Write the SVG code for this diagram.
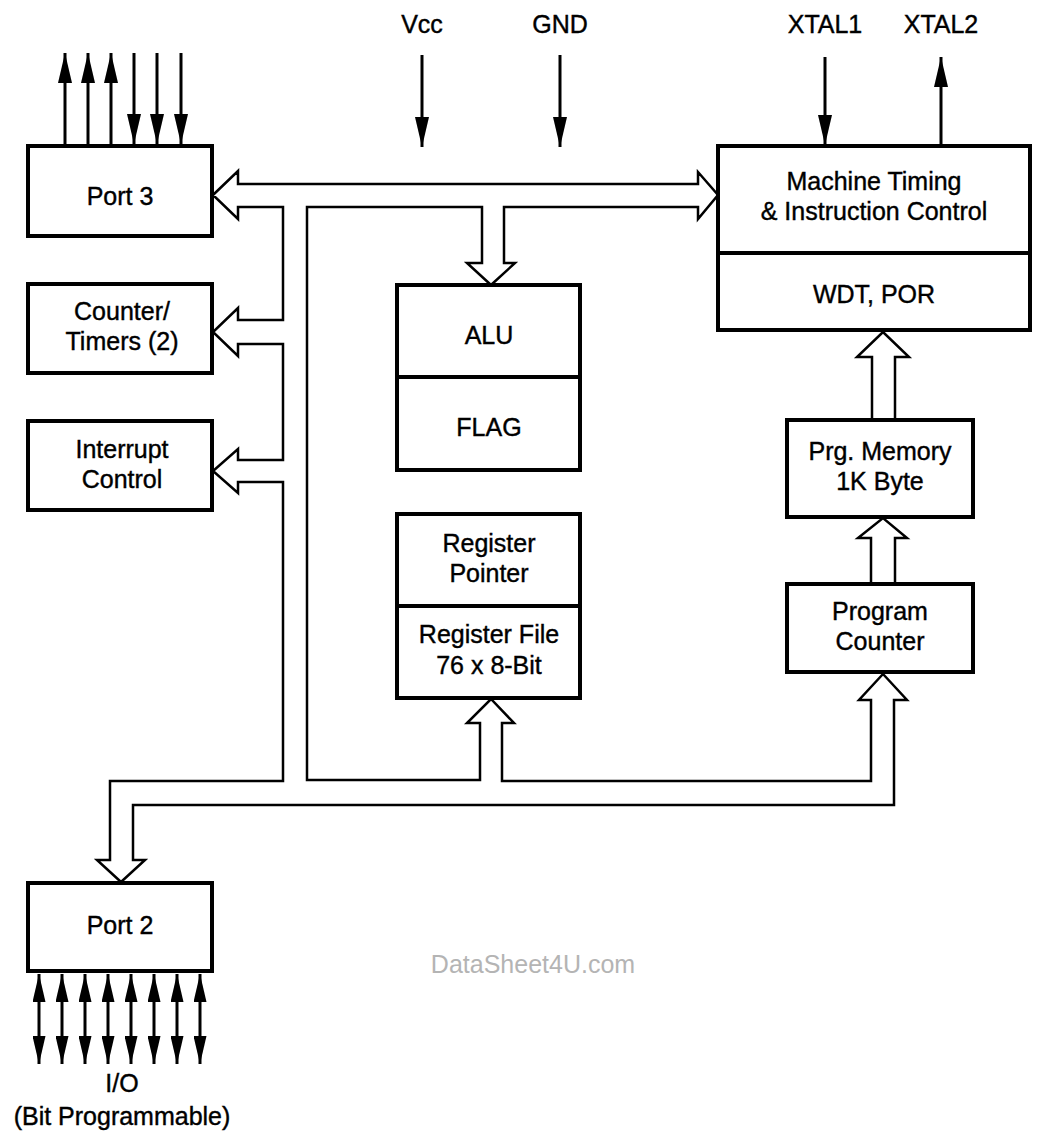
<svg xmlns="http://www.w3.org/2000/svg" width="1048" height="1145" viewBox="0 0 1048 1145">
<style>
.box{fill:#fff;stroke:#000;stroke-width:4}
.div{stroke:#000;stroke-width:4}
.lbl{font-family:"Liberation Sans",Arial,Helvetica,sans-serif;font-size:25px;text-anchor:middle;fill:#000;stroke:#000;stroke-width:0.4}
.bus{fill:none;stroke:#000;stroke-width:2.5;stroke-linejoin:miter}
.wire{stroke:#000;stroke-width:3;fill:none}
.wm{font-family:"Liberation Sans",Arial,sans-serif;font-size:25px;text-anchor:middle;fill:#b4b4b4}
</style>
<defs>
<marker id="ah" markerUnits="userSpaceOnUse" viewBox="0 0 30 14" markerWidth="30" markerHeight="14" refX="30" refY="7" orient="auto-start-reverse">
<path d="M0,0 L30,7 L0,14 z" fill="#000"/>
</marker>
<marker id="ah2" markerUnits="userSpaceOnUse" viewBox="0 0 28 13" markerWidth="28" markerHeight="13" refX="28" refY="6.5" orient="auto-start-reverse">
<path d="M0,0 L28,6.5 L0,13 z" fill="#000"/>
</marker>
</defs>
<rect width="1048" height="1145" fill="#fff"/>

<g id="connectors">
<polygon class="bus" points="213,195 238,171 238,184 698,184 698,172 718,195 698,219 698,207 504,207 504,263 515,263 491,285 467,263 482,263 482,207 307,207 307,780 480,780 480,723 467,723 491,699 514,723 502,723 502,781 871,781 871,700 859,700 883,674 907,700 894,700 894,805 133,805 133,860 145,860 121,882 97,860 110,860 110,781 283,781 283,482 238,482 238,493 213,471 238,449 238,460 283,460 283,344 238,344 238,356 213,332 238,308 238,320 283,320 283,207 238,207 238,219"/>
<polyline class="bus" points="872,420 872,357 857,357 883,332 909,357 895,357 895,420"/>
<polyline class="bus" points="871,584 871,538 858,538 883,518 907,538 895,538 895,584"/>
<line class="wire" x1="65" y1="145" x2="65" y2="53" marker-end="url(#ah)"/>
<line class="wire" x1="88" y1="145" x2="88" y2="53" marker-end="url(#ah)"/>
<line class="wire" x1="111" y1="145" x2="111" y2="53" marker-end="url(#ah)"/>
<line class="wire" x1="134" y1="53" x2="134" y2="144" marker-end="url(#ah)"/>
<line class="wire" x1="157" y1="53" x2="157" y2="144" marker-end="url(#ah)"/>
<line class="wire" x1="181" y1="53" x2="181" y2="144" marker-end="url(#ah)"/>
<line class="wire" x1="422" y1="55" x2="422" y2="147" marker-end="url(#ah)"/>
<line class="wire" x1="560" y1="55" x2="560" y2="147" marker-end="url(#ah)"/>
<line class="wire" x1="825" y1="57" x2="825" y2="145" marker-end="url(#ah)"/>
<line class="wire" x1="941" y1="146" x2="941" y2="57" marker-end="url(#ah)"/>
<line class="wire" x1="39" y1="974" x2="39" y2="1064" marker-start="url(#ah2)" marker-end="url(#ah2)"/>
<line class="wire" x1="62" y1="974" x2="62" y2="1064" marker-start="url(#ah2)" marker-end="url(#ah2)"/>
<line class="wire" x1="85" y1="974" x2="85" y2="1064" marker-start="url(#ah2)" marker-end="url(#ah2)"/>
<line class="wire" x1="108" y1="974" x2="108" y2="1064" marker-start="url(#ah2)" marker-end="url(#ah2)"/>
<line class="wire" x1="131" y1="974" x2="131" y2="1064" marker-start="url(#ah2)" marker-end="url(#ah2)"/>
<line class="wire" x1="154" y1="974" x2="154" y2="1064" marker-start="url(#ah2)" marker-end="url(#ah2)"/>
<line class="wire" x1="177" y1="974" x2="177" y2="1064" marker-start="url(#ah2)" marker-end="url(#ah2)"/>
<line class="wire" x1="200" y1="974" x2="200" y2="1064" marker-start="url(#ah2)" marker-end="url(#ah2)"/>
</g>

<g id="port3">
<rect class="box" x="28" y="146" width="184" height="90"/>
<text class="lbl" x="120" y="205">Port 3</text>
</g>
<g id="counter-timers">
<rect class="box" x="28" y="284" width="184" height="89"/>
<text class="lbl" x="122" y="320">Counter/</text>
<text class="lbl" x="122" y="350">Timers (2)</text>
</g>
<g id="interrupt-control">
<rect class="box" x="28" y="421" width="184" height="89"/>
<text class="lbl" x="122" y="458">Interrupt</text>
<text class="lbl" x="122" y="488">Control</text>
</g>
<g id="port2">
<rect class="box" x="28" y="883" width="184" height="88"/>
<text class="lbl" x="120" y="934">Port 2</text>
</g>
<g id="alu-flag">
<rect class="box" x="397" y="285" width="183" height="185"/>
<line class="div" x1="397" y1="377" x2="580" y2="377"/>
<text class="lbl" x="489" y="344">ALU</text>
<text class="lbl" x="489" y="436">FLAG</text>
</g>
<g id="register">
<rect class="box" x="397" y="514" width="183" height="184"/>
<line class="div" x1="397" y1="606" x2="580" y2="606"/>
<text class="lbl" x="489" y="552">Register</text>
<text class="lbl" x="489" y="582">Pointer</text>
<text class="lbl" x="489" y="643">Register File</text>
<text class="lbl" x="489" y="674">76 x 8-Bit</text>
</g>
<g id="machine-timing">
<rect class="box" x="718" y="146" width="312" height="184"/>
<line class="div" x1="718" y1="253" x2="1030" y2="253"/>
<text class="lbl" x="874" y="190">Machine Timing</text>
<text class="lbl" x="874" y="220">&amp; Instruction Control</text>
<text class="lbl" x="874" y="303">WDT, POR</text>
</g>
<g id="prg-memory">
<rect class="box" x="787" y="420" width="186" height="97"/>
<text class="lbl" x="880" y="460">Prg. Memory</text>
<text class="lbl" x="880" y="490">1K Byte</text>
</g>
<g id="program-counter">
<rect class="box" x="787" y="584" width="186" height="88"/>
<text class="lbl" x="880" y="620">Program</text>
<text class="lbl" x="880" y="650">Counter</text>
</g>

<g id="labels">
<text class="lbl" x="422" y="33">Vcc</text>
<text class="lbl" x="560" y="33">GND</text>
<text class="lbl" x="825" y="33">XTAL1</text>
<text class="lbl" x="941" y="33">XTAL2</text>
<text class="lbl" x="122" y="1092">I/O</text>
<text class="lbl" x="122" y="1125">(Bit Programmable)</text>
<text class="wm" x="533" y="973">DataSheet4U.com</text>
</g>
</svg>
